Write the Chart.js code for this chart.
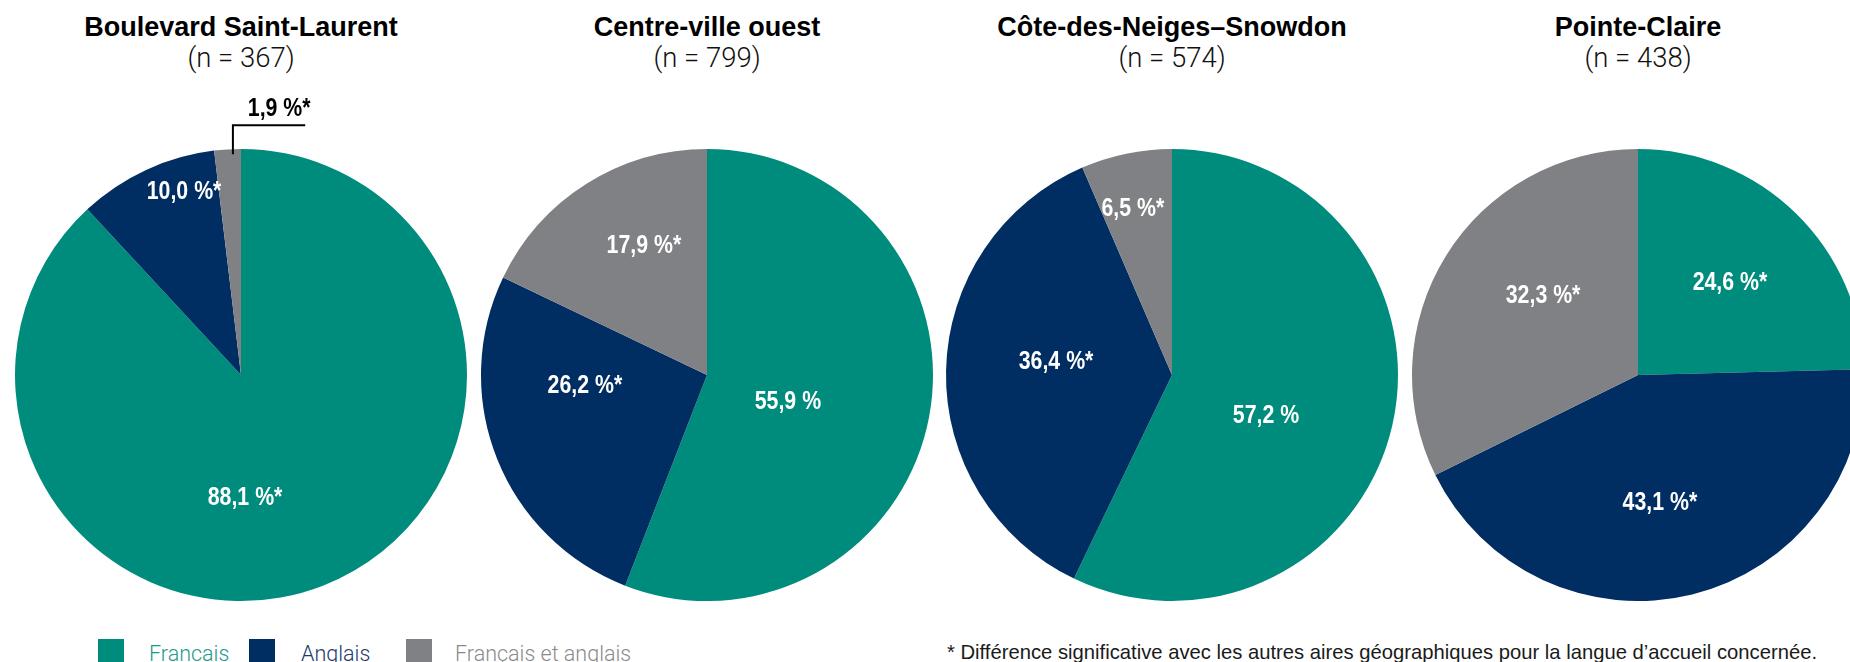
<!DOCTYPE html>
<html lang="fr">
<head>
<meta charset="utf-8">
<script src="https://cdn.jsdelivr.net/npm/chart.js@4.4.1/dist/chart.umd.min.js"></script>
<style>
  html, body { margin: 0; padding: 0; background: #fff; }
  body { width: 1850px; height: 662px; overflow: hidden; position: relative; }
  .title { position: absolute; width: 460px; text-align: center; font-family: "Liberation Sans", Arial, sans-serif; font-weight: bold; font-size: 27px; line-height: 27px; color: #000; white-space: nowrap; }
  .sub { position: absolute; width: 460px; text-align: center; font-family: Roboto, "Liberation Sans", sans-serif; font-weight: 300; font-size: 27.5px; line-height: 27px; color: #111; white-space: nowrap; }
  canvas.pie { position: absolute; }
  .sw { position: absolute; width: 26px; height: 26px; top: 639px; }
  .lt { position: absolute; font-family: Roboto, "Liberation Sans", sans-serif; font-weight: 300; font-size: 21.5px; line-height: 21.5px; top: 643px; white-space: nowrap; }
  .note { position: absolute; left: 947px; top: 641px; font-family: "Liberation Sans", Arial, sans-serif; font-size: 21px; line-height: 21px; color: #1a1a1a; white-space: nowrap; transform-origin: 0 0; }
</style>
</head>
<body>
<div id="root"></div>
<script>
// ---- Data ----
const categories = ['Francais', 'Anglais', 'Français et anglais'];
const areas = ['Boulevard Saint-Laurent', 'Centre-ville ouest', 'Côte-des-Neiges–Snowdon', 'Pointe-Claire'];
const sampleSizes = [367, 799, 574, 438];
const francais = [88.1, 55.9, 57.2, 24.6];
const anglais = [10.0, 26.2, 36.4, 43.1];
const francaisEtAnglais = [1.9, 17.9, 6.5, 32.3];
const francaisSignificant = [true, false, false, true];
const anglaisSignificant = [true, true, true, true];
const francaisEtAnglaisSignificant = [true, true, true, true];
const footnote = '* Différence significative avec les autres aires géographiques pour la langue d’accueil concernée.';

// ---- Styles ----
const colors = ['#008C7D', '#002D62', '#808184'];
const legendTextColors = ['#1E9A8A', '#1E3A6A', '#8A8A8D'];
const labelFont = 'bold 26px "Liberation Sans", Arial, sans-serif';
const labelSqueeze = 0.82;   // emulate a condensed face
// label anchors relative to pie centre, in units of the radius (null = callout outside)
const labelAnchors = [
  [[0.018, 0.544], [-0.252, -0.810], null],
  [[0.358, 0.119], [-0.540, 0.049], [-0.279, -0.571]],
  [[0.416, 0.181], [-0.513, -0.058], [-0.173, -0.735]],
  [[0.407, -0.407], [0.097, 0.566], [-0.420, -0.350]]
];
const pieCentersX = [241, 707, 1172, 1638];
const pieCenterY = 375;
const canvasW = 460, canvasH = 530, canvasTop = 90;

function fmt(v, sig) {
  return v.toFixed(1).replace('.', ',') + ' %' + (sig ? '*' : '');
}

function squeezedText(ctx, text, x, y) {
  ctx.save();
  ctx.translate(x, y);
  ctx.scale(labelSqueeze, 1);
  ctx.fillText(text, 0, 0);
  ctx.restore();
}

const labelPlugin = {
  id: 'sliceLabels',
  afterDatasetsDraw(chart, args, opts) {
    const ctx = chart.ctx;
    const meta = chart.getDatasetMeta(0);
    const ds = chart.data.datasets[0];
    ctx.save();
    ctx.font = labelFont;
    ctx.textAlign = 'center';
    ctx.textBaseline = 'middle';
    meta.data.forEach((arc, i) => {
      const cx = arc.x, cy = arc.y, r = arc.outerRadius;
      const text = fmt(ds.data[i], opts.sig[i]);
      const anchor = opts.anchors[i];
      if (anchor) {
        ctx.fillStyle = '#ffffff';
        squeezedText(ctx, text, cx + anchor[0] * r, cy + anchor[1] * r);
      } else {
        // callout above the pie for a thin slice
        const a = arc.endAngle - 0.3 * (arc.endAngle - arc.startAngle);
        const ax = cx + Math.cos(a) * r;
        const ay = cy + Math.sin(a) * r;
        const lineY = cy - r * 1.105;
        const lineLen = r * 0.32;
        ctx.strokeStyle = '#000';
        ctx.lineWidth = 2;
        ctx.beginPath();
        ctx.moveTo(ax, ay + 5);
        ctx.lineTo(ax, lineY);
        ctx.lineTo(ax + lineLen, lineY);
        ctx.stroke();
        ctx.fillStyle = '#000';
        squeezedText(ctx, text, ax + lineLen * 0.64, lineY - 16);
      }
    });
    ctx.restore();
  }
};

const root = document.getElementById('root');
areas.forEach((area, k) => {
  const cx = pieCentersX[k];
  const t = document.createElement('div');
  t.className = 'title';
  t.style.left = (cx - 230) + 'px';
  t.style.top = '14px';
  t.textContent = area;
  root.appendChild(t);
  const s = document.createElement('div');
  s.className = 'sub';
  s.style.left = (cx - 230) + 'px';
  s.style.top = '44px';
  s.textContent = '(n = ' + sampleSizes[k] + ')';
  root.appendChild(s);

  const cv = document.createElement('canvas');
  cv.className = 'pie';
  cv.width = canvasW; cv.height = canvasH;
  cv.style.width = canvasW + 'px'; cv.style.height = canvasH + 'px';
  cv.style.left = (cx - canvasW / 2) + 'px';
  cv.style.top = canvasTop + 'px';
  root.appendChild(cv);

  const padTop = pieCenterY - canvasTop - 226;
  new Chart(cv.getContext('2d'), {
    type: 'pie',
    data: {
      labels: categories,
      datasets: [{
        data: [francais[k], anglais[k], francaisEtAnglais[k]],
        backgroundColor: colors,
        borderWidth: 0,
        hoverOffset: 0
      }]
    },
    options: {
      responsive: false,
      animation: false,
      devicePixelRatio: 1,
      layout: { padding: { left: 4, right: 4, top: padTop, bottom: canvasH - padTop - 452 } },
      plugins: {
        legend: { display: false },
        tooltip: { enabled: false },
        sliceLabels: {
          anchors: labelAnchors[k],
          sig: [francaisSignificant[k], anglaisSignificant[k], francaisEtAnglaisSignificant[k]]
        }
      }
    },
    plugins: [labelPlugin]
  });
});

// legend
const swX = [98, 249, 406];
const ltX = [149, 301, 455];
categories.forEach((c, i) => {
  const sw = document.createElement('div');
  sw.className = 'sw';
  sw.style.left = swX[i] + 'px';
  sw.style.background = colors[i];
  root.appendChild(sw);
  const lt = document.createElement('div');
  lt.className = 'lt';
  lt.style.left = ltX[i] + 'px';
  lt.style.color = legendTextColors[i];
  lt.textContent = c;
  root.appendChild(lt);
});
const n = document.createElement('div');
n.className = 'note';
n.textContent = footnote;
root.appendChild(n);
// condense the footnote to the width it occupies in the original (~870px)
const w = n.getBoundingClientRect().width;
if (w > 0) n.style.transform = 'scaleX(' + (870 / w).toFixed(4) + ')';
</script>
</body>
</html>
